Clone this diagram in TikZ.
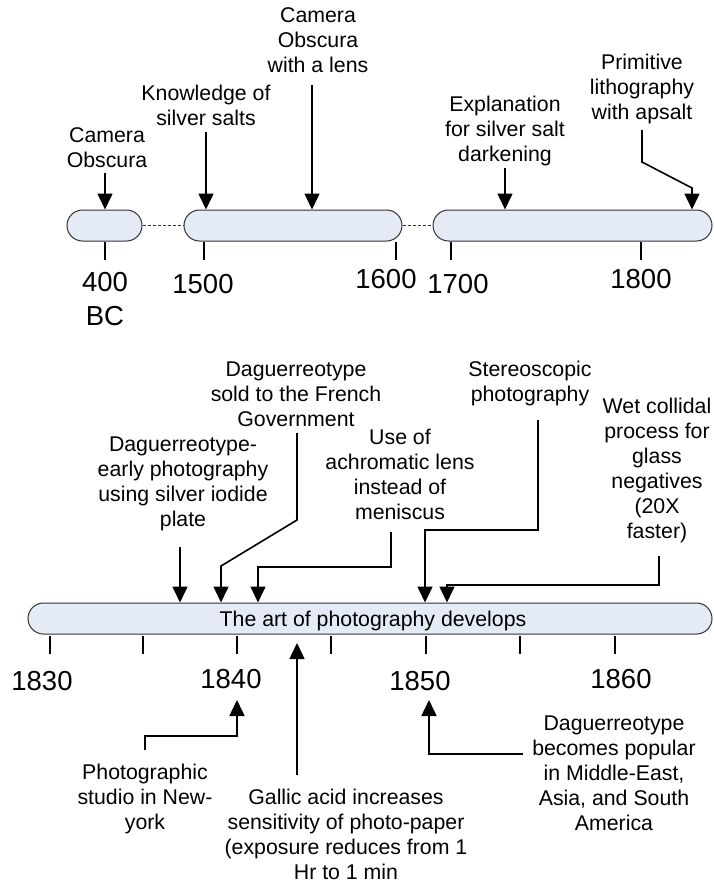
\documentclass[tikz,border=0pt]{standalone}
\usepackage{fontspec}
\setmainfont{Liberation Sans}
\usetikzlibrary{arrows.meta}
\definecolor{barfill}{RGB}{228,235,246}
\definecolor{barline}{RGB}{50,50,50}
\begin{document}
\begin{tikzpicture}[x=1pt,y=-1pt,
  lbl/.style={align=center,inner sep=0pt,anchor=north,font=\fontsize{21.3}{25}\selectfont},
  yr/.style={align=center,inner sep=0pt,anchor=north,font=\fontsize{27.5}{34}\selectfont},
  bar/.style={draw=barline,line width=1pt,fill=barfill,rounded corners=15.5pt,minimum height=31pt,inner sep=0pt},
  arr/.style={line width=1.6pt,-{Triangle[length=16pt,width=15pt]}},
  tickline/.style={line width=1.6pt},
  dots/.style={line width=1.5pt,barline,dash pattern=on 3pt off 2pt}]
\useasboundingbox (0,0) rectangle (713,886);

% ---------- top timeline ----------
\node[bar,minimum width=75pt] (bar1) at (104.5,225.5) {};
\node[bar,minimum width=218pt] (bar2) at (293,225.5) {};
\node[bar,minimum width=279pt] (bar3) at (572.5,225.5) {};
\draw[dots] (bar1.east) -- (bar2.west);
\draw[dots] (bar2.east) -- (bar3.west);

\foreach \x in {105,204,396,451,641} \draw[tickline] (\x,242) -- (\x,260);

\node[yr] (y400) at (105,272) {400\\BC};
\node[yr] (y1500) at (203,274) {1500};
\node[yr] (y1600) at (386,269) {1600};
\node[yr] (y1700) at (458,274) {1700};
\node[yr] (y1800) at (641,269) {1800};

\node[lbl] (l1) at (107,127) {Camera\\Obscura};
\node[lbl] (l2) at (206,85) {Knowledge of\\silver salts};
\node[lbl] (l3) at (318,7) {Camera\\Obscura\\with a lens};
\node[lbl] (l4) at (505,96) {Explanation\\for silver salt\\darkening};
\node[lbl] (l5) at (642,54) {Primitive\\lithography\\with apsalt};

\coordinate (s1) at (105,173);
\coordinate (s2) at (206,132);
\coordinate (s3) at (312,85);
\coordinate (s4) at (505,168);
\coordinate (s5) at (642,130);
\coordinate (e5) at (692,188);
\draw[arr] (s1) -- (s1 |- bar1.north);
\draw[arr] (s2) -- (s2 |- bar2.north);
\draw[arr] (s3) -- (s3 |- bar2.north);
\draw[arr] (s4) -- (s4 |- bar3.north);
\draw[arr] (s5) -- (642,162) -- (e5) -- (e5 |- bar3.north);

% ---------- bottom timeline ----------
\node[bar,minimum width=684pt] (bar4) at (370,618.5) {};
\node[inner sep=0pt,anchor=base,font=\fontsize{21.3}{25}\selectfont] (bt) at (373,626) {The art of photography develops};

\foreach \x in {50,143,237,331,426,520,615} \draw[tickline] (\x,636) -- (\x,654);

\node[yr] (y1830) at (42,671) {1830};
\node[yr] (y1840) at (231,669) {1840};
\node[yr] (y1850) at (420,671) {1850};
\node[yr] (y1860) at (621,669) {1860};

\node[lbl] (d1) at (183,437) {Daguerreotype-\\early photography\\using silver iodide\\plate};
\node[lbl] (d2) at (296,362) {Daguerreotype\\sold to the French\\Government};
\node[lbl] (d3) at (400,429) {Use of\\achromatic lens\\instead of\\meniscus};
\node[lbl] (d4) at (530,361) {Stereoscopic\\photography};
\node[lbl] (d5) at (657,398) {Wet collidal\\process for\\glass\\negatives\\(20X\\faster)};

\coordinate (t1) at (180,547);
\coordinate (t2) at (297,433);
\coordinate (t2b) at (221,566);
\coordinate (t3) at (391,532);
\coordinate (t3b) at (258,567);
\coordinate (t4) at (538,420);
\coordinate (t4b) at (425,530);
\coordinate (t5) at (659,556);
\coordinate (t5b) at (447,585);
\draw[arr] (t1) -- (t1 |- bar4.north);
\draw[arr] (t2) -- (297,520) -- (t2b) -- (t2b |- bar4.north);
\draw[arr] (t3) -- (t3 |- t3b) -- (t3b) -- (t3b |- bar4.north);
\draw[arr] (t4) -- (t4 |- t4b) -- (t4b) -- (t4b |- bar4.north);
\draw[arr] (t5) -- (t5 |- t5b) -- (t5b) -- (t5b |- bar4.north);

\node[lbl] (p1) at (145,764) {Photographic\\studio in New-\\york};
\node[lbl] (p2) at (346,789) {Gallic acid increases\\sensitivity of photo-paper\\(exposure reduces from 1\\Hr to 1 min};
\node[lbl] (p3) at (614,716) {Daguerreotype\\becomes popular\\in Middle-East,\\Asia, and South\\America};

\coordinate (g0) at (297,775);
\coordinate (g1) at (297,643);
\draw[arr] (g0) -- (g1);
\coordinate (q0) at (145,750);
\coordinate (q1) at (237,736);
\draw[arr] (q0) -- (q0 |- q1) -- (q1) -- (237,700);
\coordinate (r0) at (523,754);
\coordinate (r1) at (429,754);
\draw[arr] (r0) -- (r1) -- (429,700);
\end{tikzpicture}
\end{document}
